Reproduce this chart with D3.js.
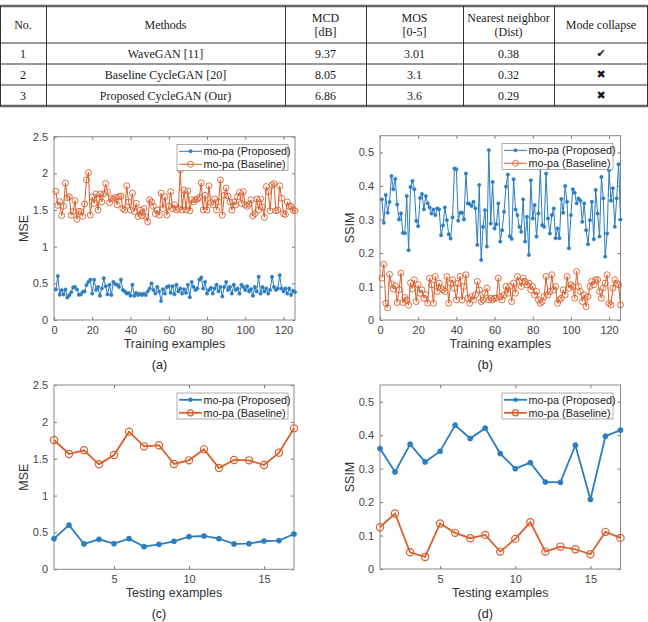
<!DOCTYPE html>
<html>
<head>
<meta charset="utf-8">
<script src="https://d3js.org/d3.v7.min.js"></script>
<style>
body { margin: 0; background: #fff; }
svg { display: block; }
</style>
</head>
<body>
<svg id="fig" width="648" height="622"></svg>
<script>
// ---- table data ----
var tableHeaders = [["No."], ["Methods"], ["MCD", "[dB]"], ["MOS", "[0-5]"], ["Nearest neighbor", "(Dist)"], ["Mode collapse"]];
var tableRows = [
    ["1", "WaveGAN [11]", "9.37", "3.01", "0.38", "\u2714"],
    ["2", "Baseline CycleGAN [20]", "8.05", "3.1", "0.32", "\u2716"],
    ["3", "Proposed CycleGAN (Our)", "6.86", "3.6", "0.29", "\u2716"]
];

// ---- series data ----
var seriesNames = ["mo-pa (Proposed)", "mo-pa (Baseline)"];

var trainProposedMSE = [0.416,0.60,0.344,0.407,0.348,0.416,0.307,0.339,0.38,0.443,0.452,0.416,0.344,0.348,0.384,0.389,0.479,
    0.52,0.55,0.36,0.55,0.41,0.45,0.33,0.43,0.57,0.46,
    0.35,0.48,0.34,0.52,0.49,0.48,0.45,0.55,0.41,0.39,
    0.36,0.37,0.33,0.48,0.33,0.37,0.34,0.36,0.34,0.36,
    0.34,0.39,0.43,0.5,0.41,0.36,0.45,0.39,0.26,0.42,
    0.36,0.45,0.46,0.37,0.46,0.35,0.48,0.39,0.43,0.36,
    0.42,0.37,0.48,0.31,0.52,0.45,0.41,0.43,0.55,0.58,
    0.43,0.52,0.36,0.41,0.44,0.36,0.43,0.48,0.39,0.45,
    0.32,0.45,0.52,0.41,0.45,0.36,0.48,0.41,0.43,0.36,
    0.48,0.45,0.41,0.46,0.39,0.42,0.33,0.45,0.39,0.59,
    0.36,0.45,0.39,0.43,0.36,0.41,0.59,0.45,0.41,0.43,
    0.61,0.43,0.39,0.43,0.36,0.43,0.34,0.40,0.38];
var trainBaselineMSE = [1.754,1.564,1.614,1.424,1.55,1.867,1.668,1.682,1.429,1.478,1.627,1.374,1.483,1.478,1.415,1.582,1.912,
    2.01,1.43,1.68,1.59,1.72,1.5,1.72,1.61,1.72,1.86,
    1.75,1.6,1.66,1.65,1.67,1.57,1.68,1.69,1.52,1.5,
    1.83,1.61,1.5,1.73,1.48,1.59,1.41,1.5,1.42,1.52,
    1.41,1.34,1.64,1.61,1.55,1.45,1.5,1.43,1.73,1.52,
    1.68,1.43,1.55,1.75,1.52,1.57,1.5,1.52,2.05,1.5,
    1.77,1.5,1.76,1.49,1.64,1.61,1.64,1.65,1.67,1.87,
    1.5,1.7,1.5,1.83,1.6,1.57,1.65,1.5,1.61,1.91,
    1.43,1.7,1.8,1.69,1.61,1.5,1.61,1.57,1.68,1.74,
    1.59,1.75,1.57,1.55,1.58,1.64,1.42,1.45,1.65,1.5,
    1.65,1.54,1.4,1.82,1.75,1.49,1.84,1.86,1.49,1.5,
    1.83,1.66,1.45,1.44,1.61,1.55,1.55,1.5,1.49];
var trainProposedSSIM = [0.36,0.29,0.373,0.32,0.352,0.43,0.39,0.421,0.345,0.30,0.318,0.26,0.259,0.37,0.208,0.397,0.415,
    0.39,0.296,0.28,0.364,0.376,0.33,0.37,0.348,0.336,0.318,
    0.33,0.313,0.333,0.33,0.253,0.282,0.336,0.298,0.256,0.243,
    0.306,0.452,0.45,0.296,0.32,0.32,0.30,0.437,0.348,0.346,
    0.34,0.353,0.333,0.224,0.403,0.179,0.278,0.328,0.219,0.507,
    0.288,0.412,0.273,0.286,0.348,0.234,0.268,0.323,0.398,0.434,
    0.25,0.242,0.42,0.33,0.313,0.278,0.263,0.36,0.234,0.308,
    0.194,0.417,0.303,0.343,0.249,0.318,0.452,0.283,0.278,0.437,
    0.303,0.258,0.313,0.333,0.244,0.273,0.244,0.361,0.32,0.40,
    0.353,0.214,0.313,0.39,0.38,0.348,0.363,0.356,0.293,0.348,
    0.268,0.226,0.298,0.353,0.241,0.388,0.318,0.249,0.427,0.363,
    0.189,0.258,0.447,0.356,0.393,0.278,0.363,0.465,0.30];
var trainBaselineSSIM = [0.125,0.166,0.05,0.036,0.136,0.108,0.092,0.102,0.052,0.09,0.14,0.052,0.067,0.059,0.044,0.111,0.093,
    0.12,0.055,0.105,0.08,0.09,0.065,0.075,0.05,0.125,0.105,
    0.05,0.13,0.085,0.11,0.095,0.09,0.085,0.13,0.05,0.11,
    0.12,0.095,0.06,0.11,0.13,0.06,0.1,0.135,0.065,0.05,
    0.07,0.06,0.075,0.115,0.09,0.055,0.06,0.08,0.095,0.06,
    0.065,0.06,0.065,0.065,0.125,0.07,0.06,0.075,0.1,0.08,
    0.1,0.055,0.11,0.08,0.13,0.115,0.1,0.125,0.115,0.105,
    0.11,0.09,0.1,0.075,0.085,0.06,0.05,0.055,0.07,0.13,
    0.075,0.085,0.135,0.09,0.1,0.05,0.06,0.065,0.09,0.075,
    0.13,0.095,0.105,0.1,0.065,0.145,0.1,0.085,0.055,0.075,
    0.04,0.07,0.1,0.115,0.105,0.12,0.12,0.085,0.065,0.095,
    0.11,0.135,0.05,0.045,0.095,0.12,0.11,0.105,0.045];

var testProposedMSE = [0.416,0.60,0.344,0.407,0.348,0.416,0.307,0.339,0.38,0.443,0.452,0.416,0.344,0.348,0.384,0.389,0.479];
var testBaselineMSE = [1.754,1.564,1.614,1.424,1.55,1.867,1.668,1.682,1.429,1.478,1.627,1.374,1.483,1.478,1.415,1.582,1.912];
var testProposedSSIM = [0.36,0.29,0.373,0.32,0.352,0.43,0.39,0.421,0.345,0.30,0.318,0.26,0.259,0.37,0.208,0.397,0.415];
var testBaselineSSIM = [0.125,0.166,0.05,0.036,0.136,0.108,0.092,0.102,0.052,0.09,0.14,0.052,0.067,0.059,0.044,0.111,0.093];

var mseTicks = [0, 0.5, 1, 1.5, 2, 2.5];
var ssimTicks = [0, 0.1, 0.2, 0.3, 0.4, 0.5];
var trainTicks = [0, 20, 40, 60, 80, 100, 120];
var testTicks = [5, 10, 15];

var blue = "#2a7dbf", orange = "#d95f2c";
var svg = d3.select("#fig");

// ---- table ----
var colEdges = [0, 46, 285, 366, 463, 554, 648];
var tableTop = 6, headH = 37, rowH = 21;
var tableBottom = tableTop + headH + rowH * tableRows.length;
var tbl = svg.append("g")
    .attr("font-family", "'Liberation Serif','Times New Roman',serif")
    .attr("font-size", 12)
    .attr("fill", "#1a1a1a");

[tableTop, tableBottom].forEach(function(yy) {
    tbl.append("line").attr("x1", 0).attr("x2", 648).attr("y1", yy).attr("y2", yy)
        .attr("stroke", "#666").attr("stroke-width", 2.5);
});
d3.range(tableRows.length).forEach(function(i) {
    var yy = tableTop + headH + rowH * i;
    tbl.append("line").attr("x1", 0).attr("x2", 648).attr("y1", yy).attr("y2", yy)
        .attr("stroke", "#333").attr("stroke-width", 1);
});
colEdges.forEach(function(xx, i) {
    var px = i === 0 ? 0.5 : (i === colEdges.length - 1 ? 647.5 : xx + 0.5);
    tbl.append("line").attr("x1", px).attr("x2", px).attr("y1", tableTop).attr("y2", tableBottom)
        .attr("stroke", "#333").attr("stroke-width", 1);
});

tableHeaders.forEach(function(lines, c) {
    var cx = (colEdges[c] + colEdges[c + 1]) / 2;
    var cy = tableTop + headH / 2;
    lines.forEach(function(t, k) {
        tbl.append("text").attr("x", cx)
            .attr("y", cy + (k - (lines.length - 1) / 2) * 14)
            .attr("text-anchor", "middle").attr("dominant-baseline", "central")
            .text(t);
    });
});
tableRows.forEach(function(row, r) {
    var cy = tableTop + headH + rowH * r + rowH / 2;
    row.forEach(function(t, c) {
        var cx = (colEdges[c] + colEdges[c + 1]) / 2;
        var txt = tbl.append("text").attr("x", cx).attr("y", cy)
            .attr("text-anchor", "middle").attr("dominant-baseline", "central")
            .text(t);
        if (c === 5) txt.attr("font-family", "'DejaVu Sans',sans-serif").attr("font-size", 11);
    });
});

// ---- plots ----
function drawPanel(p) {
    var x = d3.scaleLinear().domain(p.xDomain).range([p.left, p.right]);
    var y = d3.scaleLinear().domain(p.yDomain).range([p.bottom, p.top]);
    var g = svg.append("g").attr("font-family", "'Liberation Sans',Arial,sans-serif");
    var fmt = d3.format("~g");

    function styleAxis(a) {
        a.select(".domain").remove();
        a.selectAll(".tick line").attr("stroke", "#777");
        a.selectAll(".tick text").attr("fill", "#444").attr("font-size", 11)
            .attr("font-family", "'Liberation Sans',Arial,sans-serif");
    }
    g.append("g").attr("transform", "translate(0," + p.bottom + ")")
        .call(d3.axisBottom(x).tickValues(p.xTicks).tickSizeInner(-3).tickSizeOuter(0).tickPadding(6).tickFormat(fmt))
        .call(styleAxis);
    g.append("g").attr("transform", "translate(0," + p.top + ")")
        .call(d3.axisTop(x).tickValues(p.xTicks).tickSizeInner(-3).tickSizeOuter(0).tickFormat(""))
        .call(styleAxis);
    g.append("g").attr("transform", "translate(" + p.left + ",0)")
        .call(d3.axisLeft(y).tickValues(p.yTicks).tickSizeInner(-3).tickSizeOuter(0).tickPadding(6).tickFormat(fmt))
        .call(styleAxis);
    g.append("g").attr("transform", "translate(" + p.right + ",0)")
        .call(d3.axisRight(y).tickValues(p.yTicks).tickSizeInner(-3).tickSizeOuter(0).tickFormat(""))
        .call(styleAxis);
    g.append("rect").attr("x", p.left).attr("y", p.top)
        .attr("width", p.right - p.left).attr("height", p.bottom - p.top)
        .attr("fill", "none").attr("stroke", "#888").attr("stroke-width", 1);

    var line = d3.line().x(function(d, i) { return x(i + 1); }).y(function(d) { return y(d); });
    var series = [
        { values: p.proposed, color: blue, filled: true },
        { values: p.baseline, color: orange, filled: false }
    ];
    series.forEach(function(s) {
        g.append("path").datum(s.values).attr("d", line)
            .attr("fill", "none").attr("stroke", s.color).attr("stroke-width", p.lw);
        g.append("g").selectAll("circle").data(s.values).enter().append("circle")
            .attr("cx", function(d, i) { return x(i + 1); })
            .attr("cy", function(d) { return y(d); })
            .attr("r", s.filled ? p.dotR : p.ringR)
            .attr("fill", s.filled ? s.color : "none")
            .attr("stroke", s.color)
            .attr("stroke-width", s.filled ? 0.5 : p.ringW);
    });

    // legend
    var lg = g.append("g").attr("transform", "translate(" + p.legend[0] + "," + p.legend[1] + ")");
    lg.append("rect").attr("width", p.legend[2]).attr("height", 26)
        .attr("fill", "#fff").attr("stroke", "#999").attr("stroke-width", 0.8);
    series.forEach(function(s, i) {
        var yy = 6.8 + i * 13;
        lg.append("line").attr("x1", 2).attr("x2", 25).attr("y1", yy).attr("y2", yy)
            .attr("stroke", s.color).attr("stroke-width", p.lw);
        lg.append("circle").attr("cx", 13.5).attr("cy", yy)
            .attr("r", s.filled ? Math.min(p.dotR, 2) : Math.min(p.ringR, 3))
            .attr("fill", s.filled ? s.color : "none")
            .attr("stroke", s.color).attr("stroke-width", s.filled ? 0.5 : p.ringW);
        lg.append("text").attr("x", 26.5).attr("y", yy).attr("dominant-baseline", "central")
            .attr("font-size", 10.8).attr("fill", "#222").text(seriesNames[i]);
    });

    // labels
    g.append("text").attr("transform", "translate(" + (p.left - 26) + "," + ((p.top + p.bottom) / 2) + ") rotate(-90)")
        .attr("text-anchor", "middle").attr("font-size", 12.5).attr("fill", "#333").text(p.yLabel);
    g.append("text").attr("x", (p.left + p.right) / 2).attr("y", p.bottom + 28)
        .attr("text-anchor", "middle").attr("font-size", 12.5).attr("fill", "#333").text(p.xLabel);
    g.append("text").attr("x", (p.left + p.right) / 2 - 15).attr("y", p.bottom + 49)
        .attr("text-anchor", "middle").attr("font-size", 12.5).attr("fill", "#222").text(p.caption);
}

var trainStyle = { lw: 1, dotR: 1.7, ringR: 3, ringW: 0.9 };
var testStyle = { lw: 1.8, dotR: 2.6, ringR: 3.6, ringW: 1.2 };

drawPanel(Object.assign({
    left: 54, right: 295, top: 136.7, bottom: 320,
    xDomain: [0, 126], yDomain: [0, 2.5], xTicks: trainTicks, yTicks: mseTicks,
    proposed: trainProposedMSE, baseline: trainBaselineMSE,
    yLabel: "MSE", xLabel: "Training examples", caption: "(a)", legend: [177, 144.5, 111]
}, trainStyle));
drawPanel(Object.assign({
    left: 380, right: 620.5, top: 135.7, bottom: 320,
    xDomain: [0, 126], yDomain: [0, 0.55], xTicks: trainTicks, yTicks: ssimTicks,
    proposed: trainProposedSSIM, baseline: trainBaselineSSIM,
    yLabel: "SSIM", xLabel: "Training examples", caption: "(b)", legend: [502, 143.5, 111]
}, trainStyle));
drawPanel(Object.assign({
    left: 54, right: 294, top: 385, bottom: 569.3,
    xDomain: [1, 17], yDomain: [0, 2.5], xTicks: testTicks, yTicks: mseTicks,
    proposed: testProposedMSE, baseline: testBaselineMSE,
    yLabel: "MSE", xLabel: "Testing examples", caption: "(c)", legend: [177, 393, 111]
}, testStyle));
drawPanel(Object.assign({
    left: 380, right: 620.5, top: 385, bottom: 569,
    xDomain: [1, 17], yDomain: [0, 0.55], xTicks: testTicks, yTicks: ssimTicks,
    proposed: testProposedSSIM, baseline: testBaselineSSIM,
    yLabel: "SSIM", xLabel: "Testing examples", caption: "(d)", legend: [502, 393, 111]
}, testStyle));
</script>
</body>
</html>
